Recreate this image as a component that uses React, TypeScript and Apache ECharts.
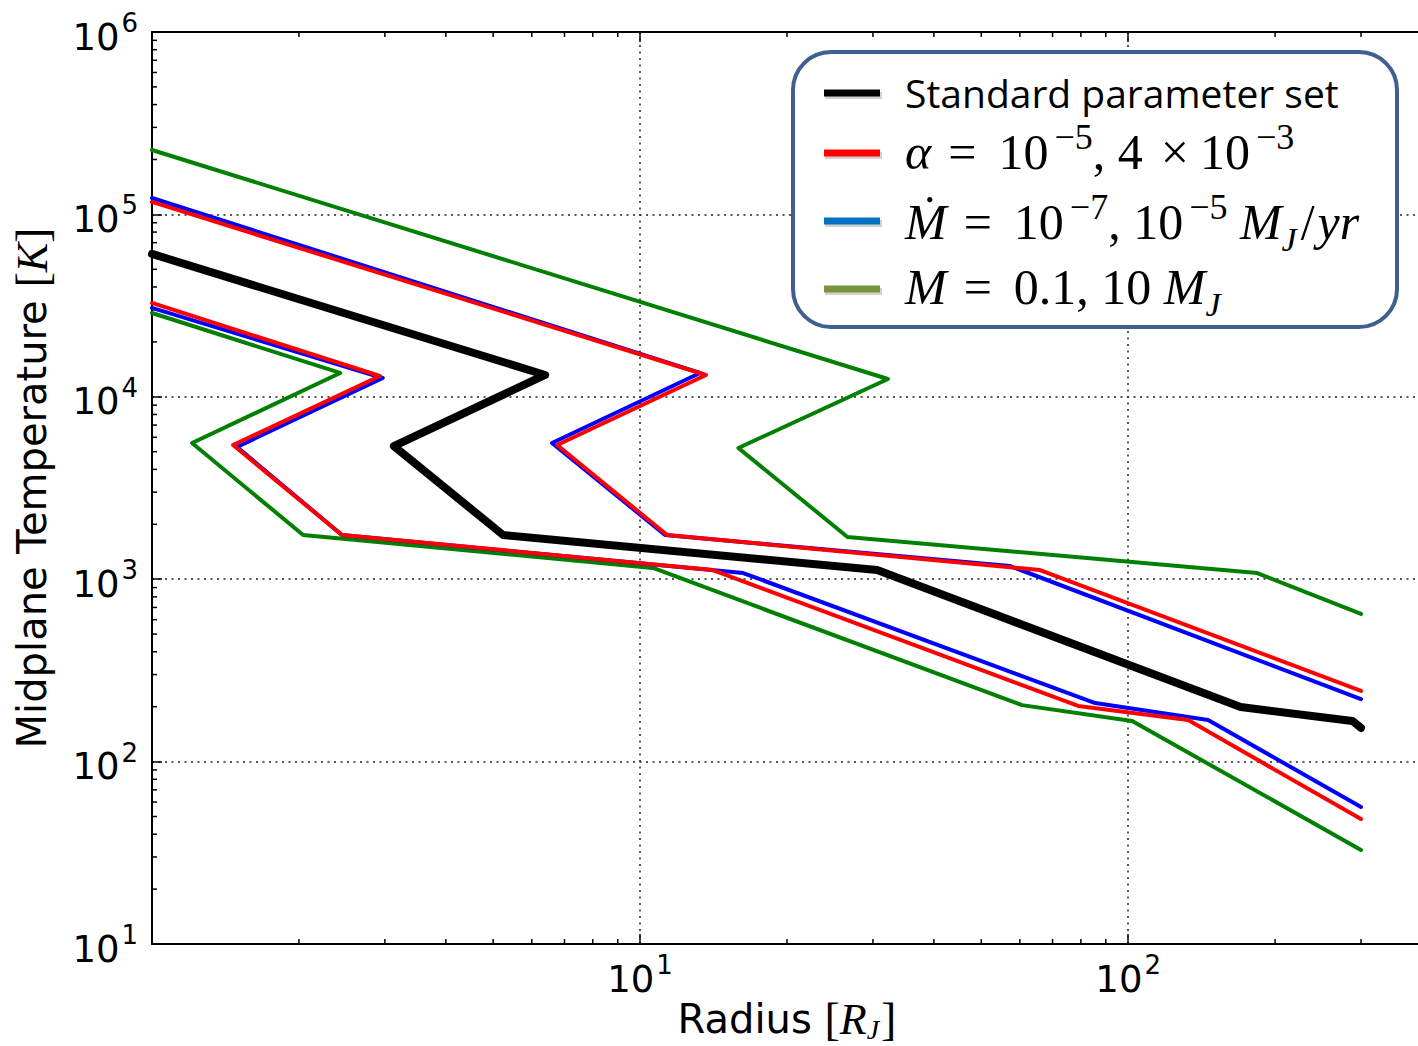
import React, { useEffect, useRef } from "react";
import * as echarts from "echarts";

// ---- data (radius in R_J, midplane temperature in K) ----
const standardR = [1, 6.39, 3.13, 5.24, 30.6, 170, 288, 300];
const standardT = [60700, 13170, 5370, 1747, 1123, 199, 167, 153];

const alphaLowR = [1, 2.93, 1.466, 2.45, 14.1, 79.0, 132.7, 300];
const alphaLowT = [32700, 13000, 5440, 1747, 1123, 202, 169, 48.4];
const alphaHighR = [1, 13.65, 6.76, 11.36, 66.0, 300];
const alphaHighT = [117000, 13170, 5440, 1747, 1123, 244];

const mdotLowR = [1, 2.97, 1.493, 2.45, 16.26, 85.6, 145.8, 300];
const mdotLowT = [30700, 12680, 5310, 1747, 1081, 209.5, 169, 56.4];
const mdotHighR = [1, 13.27, 6.6, 11.25, 57.3, 300];
const mdotHighT = [123000, 13510, 5580, 1747, 1181, 220];

const massLowR = [1, 2.43, 1.208, 2.04, 10.63, 60.6, 101.9, 300];
const massLowT = [28800, 13510, 5580, 1747, 1152, 204, 167, 32.8];
const massHighR = [1, 32.2, 15.9, 26.6, 183.8, 300];
const massHighT = [225500, 12520, 5240, 1704, 1081, 645];

const X_MIN = 1;
const X_MAX = 400;
const Y_MIN = 10;
const Y_MAX = 1e6;

const xMinorTicks = [2, 3, 4, 5, 6, 7, 8, 9, 20, 30, 40, 50, 60, 70, 80, 90, 200, 300];
const yMinorTicks: number[] = [];
[10, 100, 1000, 10000, 100000].forEach((d) => {
  [2, 3, 4, 5, 6, 7, 8, 9].forEach((k) => yMinorTicks.push(k * d));
});

const pairs = (r: number[], t: number[]) => r.map((v, i) => [v, t[i]]);

const TICK_FONT = "'DejaVu Sans', sans-serif";
const MATH_FONT = "'Liberation Serif', 'DejaVu Serif', serif";

// all tokens are vertically centred on the line; padding moves sup / sub
const tickRich = {
  b: { fontFamily: TICK_FONT, fontSize: 37, lineHeight: 44, color: "#000" },
  s: { fontFamily: TICK_FONT, fontSize: 26, lineHeight: 44, color: "#000", padding: [0, 0, 28, 2] },
};

const powLabel = (hideZero: boolean) => (v: number) => {
  const e = Math.round(Math.log10(v));
  if (Math.abs(Math.pow(10, e) - v) > 1e-6 * v) return "";
  if (hideZero && e === 0) return "";
  return `{b|10}{s|${e}}`;
};

const nameRich = {
  n: { fontFamily: TICK_FONT, fontSize: 40, lineHeight: 48, color: "#000" },
  b: { fontFamily: MATH_FONT, fontSize: 46, lineHeight: 48, color: "#000" },
  i: { fontFamily: MATH_FONT, fontSize: 44, fontStyle: "italic", lineHeight: 48, color: "#000" },
  sub: {
    fontFamily: MATH_FONT,
    fontSize: 28,
    fontStyle: "italic",
    lineHeight: 48,
    verticalAlign: "bottom",
    color: "#000",
    padding: [0, 2, 0, 0],
  },
};

const legTok = (extra: any) => ({
  fontFamily: MATH_FONT,
  fontSize: 50,
  lineHeight: 60,
  fill: "#000",
  color: "#000",
  ...extra,
});
const legRich = {
  r: legTok({}),
  i: legTok({ fontStyle: "italic" }),
  eq: legTok({ padding: [0, 22, 0, 17] }),
  op: legTok({ padding: [0, 11, 0, 18] }),
  sl: legTok({ padding: [0, 3, 0, 4] }),
  sup: legTok({ fontSize: 36, padding: [0, 0, 30, 6] }),
  sub: legTok({ fontSize: 34, fontStyle: "italic", padding: [34, 0, 0, 0] }),
};

const legendRows = [
  { color: "#000000", y: 92, text: "Standard parameter set", plain: true },
  { color: "#ff0000", y: 152, text: "{i|α}{eq|=}{r|10}{sup|−5}{r|, 4}{op|×}{r|10}{sup|−3}" },
  { color: "#0070c0", y: 222, text: "{i|Ṁ}{eq|=}{r|10}{sup|−7}{r|, 10}{sup|−5}{r| }{i|M}{sub|J}{sl|/}{i|yr}" },
  { color: "#77933c", y: 287, text: "{i|M}{eq|=}{r|0.1, 10 }{i|M}{sub|J}" },
];
const legendSwatchY = [93, 153, 221, 289];

export default function App() {
  const ref = useRef<HTMLDivElement>(null);

  useEffect(() => {
    const chart = echarts.init(ref.current as HTMLDivElement, null, { renderer: "svg" });

    const seriesDefs = [
      { name: "M low", r: massLowR, t: massLowT, color: "#008000", width: 4 },
      { name: "M high", r: massHighR, t: massHighT, color: "#008000", width: 4 },
      { name: "Mdot low", r: mdotLowR, t: mdotLowT, color: "#0000ff", width: 4 },
      { name: "Mdot high", r: mdotHighR, t: mdotHighT, color: "#0000ff", width: 4 },
      { name: "alpha low", r: alphaLowR, t: alphaLowT, color: "#ff0000", width: 4 },
      { name: "alpha high", r: alphaHighR, t: alphaHighT, color: "#ff0000", width: 4 },
      { name: "Standard", r: standardR, t: standardT, color: "#000000", width: 8 },
    ];

    const lineSeries = seriesDefs.map((d, i) => ({
      type: "line",
      name: d.name,
      data: pairs(d.r, d.t),
      showSymbol: false,
      symbol: "none",
      silent: true,
      z: 10 + i,
      lineStyle: { color: d.color, width: d.width, cap: "round", join: "round" },
    }));

    const grid = { left: 152, right: 18, top: 32, bottom: 102, outerBoundsMode: "none", containLabel: false };

    const graphic: any[] = [
      {
        type: "rect",
        z: 100,
        shape: { x: 793, y: 52, width: 604, height: 275, r: 38 },
        style: { fill: "#ffffff", stroke: "#3f5f8f", lineWidth: 4 },
      },
    ];
    legendRows.forEach((row, k) => {
      const sy = legendSwatchY[k];
      graphic.push({
        type: "line",
        z: 101,
        shape: { x1: 825, y1: sy + 2.5, x2: 882, y2: sy + 2.5 },
        style: { stroke: "rgba(0,0,0,0.18)", lineWidth: 7 },
      });
      graphic.push({
        type: "line",
        z: 102,
        shape: { x1: 824, y1: sy, x2: 880, y2: sy },
        style: { stroke: row.color, lineWidth: 7 },
      });
      if (row.plain) {
        graphic.push({
          type: "text",
          z: 102,
          x: 905,
          y: row.y,
          style: {
            text: row.text,
            fontFamily: "'Open Sans', Lato, sans-serif",
            fontSize: 39,
            fill: "#000",
            align: "left",
            verticalAlign: "middle",
          },
        });
      } else {
        graphic.push({
          type: "text",
          z: 102,
          x: 905,
          y: row.y,
          style: {
            text: row.text,
            rich: legRich,
            fontFamily: MATH_FONT,
            fontSize: 50,
            fill: "#000",
            align: "left",
            verticalAlign: "middle",
          },
        });
      }
    });

    const option: any = {
      animation: false,
      backgroundColor: "#ffffff",
      grid,
      xAxis: [
        {
          type: "log",
          logBase: 10,
          min: X_MIN,
          max: X_MAX,
          position: "bottom",
          name: "{n|Radius }{b|[}{i|R}{sub|J}{b|]}",
          nameLocation: "middle",
          nameGap: 51,
          nameMoveOverlap: false,
          nameTextStyle: { rich: nameRich },
          axisLine: { show: true, onZero: false, lineStyle: { color: "#000", width: 2 } },
          axisTick: { show: true, inside: true, length: 10, lineStyle: { color: "#000", width: 1.5 } },
          axisLabel: {
            formatter: powLabel(true),
            rich: tickRich,
            margin: 13,
            showMinLabel: false,
            showMaxLabel: false,
          },
          splitLine: { show: true, lineStyle: { color: "#222", width: 1.5, type: [2, 4.5] } },
        },
        {
          type: "log",
          logBase: 10,
          min: X_MIN,
          max: X_MAX,
          position: "top",
          axisLine: { show: true, onZero: false, lineStyle: { color: "#000", width: 2 } },
          axisTick: { show: true, inside: true, length: 10, lineStyle: { color: "#000", width: 1.5 } },
          axisLabel: { show: false },
          splitLine: { show: false },
        },
      ],
      yAxis: {
        type: "log",
        logBase: 10,
        min: Y_MIN,
        max: Y_MAX,
        name: "{n|Midplane Temperature }{b|[}{i|K}{b|]}",
        nameLocation: "middle",
        nameRotate: 90,
        nameGap: 96,
        nameMoveOverlap: false,
        nameTextStyle: { rich: nameRich },
        axisLine: { show: true, onZero: false, lineStyle: { color: "#000", width: 2 } },
        axisTick: { show: true, inside: true, length: 10, lineStyle: { color: "#000", width: 1.5 } },
        axisLabel: {
          formatter: powLabel(false),
          rich: tickRich,
          margin: 14,
          padding: [10, 0, 0, 0],
          showMinLabel: true,
          showMaxLabel: true,
        },
        splitLine: { show: true, lineStyle: { color: "#222", width: 1.5, type: [2, 4.5] } },
      },
      series: [
        {
          type: "custom",
          coordinateSystem: "cartesian2d",
          silent: true,
          clip: false,
          z: 5,
          data: xMinorTicks.map((v) => [v, Y_MIN]),
          renderItem: (_p: any, api: any) => {
            const v = api.value(0);
            const b = api.coord([v, Y_MIN]);
            const t = api.coord([v, Y_MAX]);
            return {
              type: "group",
              children: [
                { type: "line", shape: { x1: b[0], y1: b[1], x2: b[0], y2: b[1] - 5 }, style: { stroke: "#000", lineWidth: 1.5 } },
                { type: "line", shape: { x1: t[0], y1: t[1], x2: t[0], y2: t[1] + 5 }, style: { stroke: "#000", lineWidth: 1.5 } },
              ],
            };
          },
        },
        {
          type: "custom",
          coordinateSystem: "cartesian2d",
          silent: true,
          clip: false,
          z: 5,
          data: yMinorTicks.map((v) => [X_MIN, v]),
          renderItem: (_p: any, api: any) => {
            const v = api.value(1);
            const l = api.coord([X_MIN, v]);
            return {
              type: "line",
              shape: { x1: l[0], y1: l[1], x2: l[0] + 5, y2: l[1] },
              style: { stroke: "#000", lineWidth: 1.5 },
            };
          },
        },
        ...lineSeries,
      ],
      graphic,
    };

    chart.setOption(option);
    return () => chart.dispose();
  }, []);

  return (
    <div
      style={{
        position: "fixed",
        left: 0,
        top: 0,
        width: 1418,
        height: 1046,
        overflow: "hidden",
        background: "#ffffff",
      }}
    >
      <div ref={ref} style={{ width: 1440, height: 1046 }} />
    </div>
  );
}
